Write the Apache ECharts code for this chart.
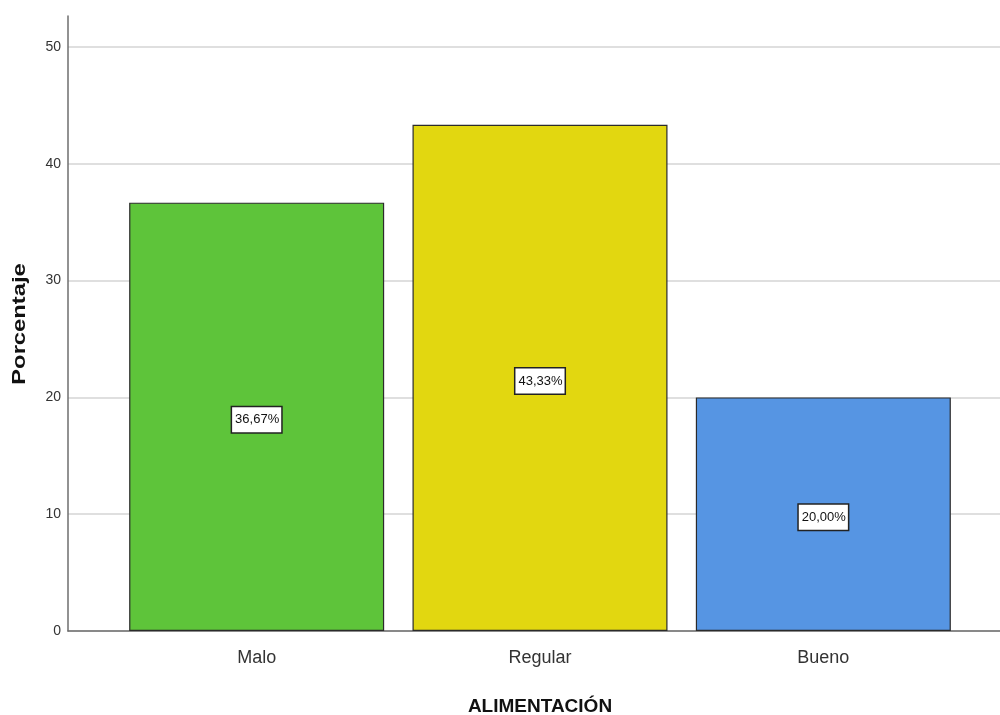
<!DOCTYPE html>
<html>
<head>
<meta charset="utf-8">
<script src="https://cdn.jsdelivr.net/npm/echarts@6/dist/echarts.min.js"></script>
<style>
  html, body { margin: 0; padding: 0; background: #fff; }
  #chart { width: 1000px; height: 715px; }
</style>
</head>
<body>
<div id="chart"></div>
<script>
// Alimentación: porcentaje por categoría
const categories = ['Malo', 'Regular', 'Bueno'];
const percentages = [36.67, 43.33, 20.00];
const barColors = ['#5ec43a', '#e2d710', '#5695e3'];
const yTicks = [0, 10, 20, 30, 40, 50];

const narrow = "'Liberation Sans Narrow', 'Arial Narrow', 'Liberation Sans', sans-serif";
const boldFont = "'Liberation Sans', Arial, sans-serif";
const yMax = 52.65;

const chart = echarts.init(document.getElementById('chart'), null, { renderer: 'canvas' });

chart.setOption({
  animation: false,
  backgroundColor: '#ffffff',
  grid: [
    { left: 68, right: 0, top: 16, bottom: 84, outerBoundsMode: 'none', containLabel: false },
    { left: 115, right: 35, top: 16, bottom: 84, outerBoundsMode: 'none', containLabel: false }
  ],
  xAxis: [
    {
      gridIndex: 0, type: 'value', min: 0, max: 1,
      axisLine: { show: true, lineStyle: { color: '#6e6e6e', width: 1.5 } },
      axisTick: { show: false }, axisLabel: { show: false }, splitLine: { show: false }
    },
    {
      gridIndex: 1, type: 'category', data: categories,
      axisLine: { show: false }, axisTick: { show: false },
      axisLabel: { color: '#333', fontSize: 18, fontFamily: narrow, margin: 18 },
      name: 'ALIMENTACIÓN', nameLocation: 'middle', nameGap: 66,
      nameTextStyle: { color: '#111', fontSize: 19, fontWeight: 'bold', fontFamily: boldFont }
    }
  ],
  yAxis: [
    {
      gridIndex: 0, type: 'value', min: 0, max: yMax, interval: 10,
      axisLine: { show: true, lineStyle: { color: '#6e6e6e', width: 1.5 } },
      axisTick: { show: false },
      axisLabel: {
        color: '#333', fontSize: 14, fontFamily: narrow, margin: 7,
        formatter: v => (yTicks.indexOf(v) >= 0 ? String(v) : '')
      },
      splitLine: { show: true, showMaxLine: false, lineStyle: { color: '#d4d4d4', width: 1.5 } }
    },
    {
      gridIndex: 1, type: 'value', min: 0, max: yMax, show: false
    }
  ],
  graphic: [
    {
      type: 'text',
      x: 20, y: 324,
      rotation: Math.PI / 2,
      scaleX: 1.25,
      style: {
        text: 'Porcentaje',
        fill: '#111',
        font: "bold 19px 'Liberation Sans', Arial, sans-serif",
        align: 'center',
        verticalAlign: 'middle'
      }
    }
  ],
  series: [
    {
      type: 'bar',
      xAxisIndex: 1, yAxisIndex: 1,
      barCategoryGap: '10%',
      data: percentages.map((v, i) => ({
        value: v,
        itemStyle: { color: barColors[i] }
      })),
      itemStyle: { borderColor: '#2b2b2b', borderWidth: 1.2 },
      label: {
        show: true, position: 'inside', offset: [0, 3],
        formatter: p => p.value.toFixed(2).replace('.', ',') + '%',
        color: '#111', fontSize: 13, fontFamily: narrow,
        backgroundColor: '#ffffff', borderColor: '#222', borderWidth: 1.5,
        padding: [7, 2, 5, 3]
      }
    }
  ]
});
</script>
</body>
</html>
